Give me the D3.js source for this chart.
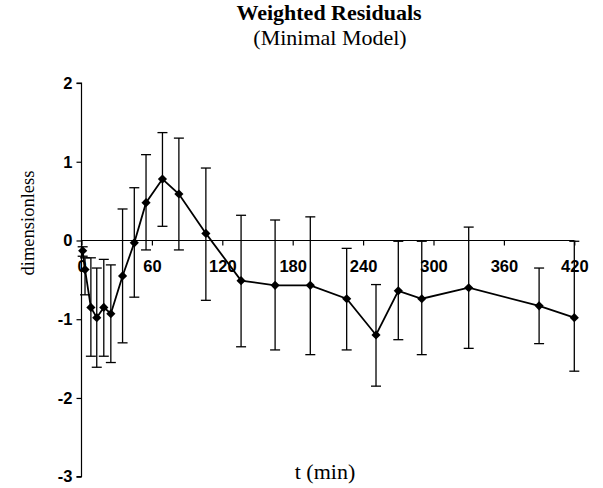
<!DOCTYPE html>
<html lang="en">
<head>
    <meta charset="UTF-8">
    <title>Weighted Residuals</title>
    <script src="https://d3js.org/d3.v7.min.js"></script>
    <style>
        body { margin: 0; background: #fff; }
        svg { display: block; }
        .tick text { font-family: "Liberation Sans", Arial, sans-serif; font-size: 16.5px; font-weight: bold; fill: #000; }
        .serif { font-family: "Liberation Serif", "Times New Roman", serif; fill: #000; }
    </style>
</head>
<body>
<svg width="603" height="488"></svg>
<script>
    // sample times (min) and weighted residuals with error bar ends
    var times = [1, 3, 8, 13, 19, 25, 35, 45, 55, 69, 83, 106, 136, 165, 195, 226, 251, 270, 290, 330, 390, 420];
    var residuals = [-0.13, -0.37, -0.85, -0.98, -0.85, -0.93, -0.45, -0.03, 0.48, 0.78, 0.59, 0.09, -0.51, -0.57, -0.57, -0.74, -1.20, -0.64, -0.74, -0.60, -0.83, -0.98];
    var upper = [-0.08, -0.22, -0.22, -0.35, -0.24, -0.31, 0.40, 0.67, 1.09, 1.37, 1.30, 0.92, 0.32, 0.26, 0.30, -0.10, -0.56, -0.01, -0.01, 0.17, -0.35, -0.01];
    var lower = [-0.20, -0.69, -1.47, -1.61, -1.47, -1.55, -1.30, -0.72, -0.12, 0.18, -0.12, -0.76, -1.35, -1.39, -1.45, -1.39, -1.85, -1.26, -1.45, -1.37, -1.31, -1.66];
    var xTicks = [0, 60, 120, 180, 240, 300, 360, 420];
    var yTicks = [-3, -2, -1, 0, 1, 2];

    var data = times.map(function (t, i) {
        return { t: t, r: residuals[i], hi: upper[i], lo: lower[i] };
    });

    var svg = d3.select("svg");
    var xScale = d3.scaleLinear().domain([0, 420]).range([81.5, 574.3]);
    var yScale = d3.scaleLinear().domain([-3, 2]).range([476.7, 83]);

    // y axis on the left (plain hyphen minus like the original)
    var yAxis = d3.axisLeft(yScale).tickValues(yTicks).tickSize(5).tickPadding(4)
        .tickFormat(function (d) { return String(d); });
    svg.append("g").attr("transform", "translate(" + xScale(0) + ",0)").call(yAxis)
        .call(function (g) {
            g.select(".domain").attr("d", "M-5," + yScale(2) + "H0V" + yScale(-3) + "H-5");
        });

    // x axis through zero
    var xAxis = d3.axisBottom(xScale).tickValues(xTicks).tickSize(5).tickPadding(15)
        .tickFormat(function (d) { return String(d); });
    svg.append("g").attr("transform", "translate(0," + yScale(0) + ")").call(xAxis)
        .call(function (g) {
            g.select(".domain").attr("d", "M" + xScale(0) + ",0H" + xScale(420));
        });

    svg.selectAll(".domain, .tick line").attr("stroke", "#000").attr("stroke-width", 1.2);

    // error bars
    var bars = svg.append("g").attr("stroke", "#000").attr("stroke-width", 1.3);
    bars.selectAll("line.v").data(data).enter().append("line")
        .attr("x1", function (d) { return xScale(d.t); })
        .attr("x2", function (d) { return xScale(d.t); })
        .attr("y1", function (d) { return yScale(d.hi); })
        .attr("y2", function (d) { return yScale(d.lo); });
    ["hi", "lo"].forEach(function (k) {
        bars.selectAll("line.c" + k).data(data).enter().append("line")
            .attr("x1", function (d) { return xScale(d.t) - 5; })
            .attr("x2", function (d) { return xScale(d.t) + 5; })
            .attr("y1", function (d) { return yScale(d[k]); })
            .attr("y2", function (d) { return yScale(d[k]); });
    });

    // residual line
    var resLine = d3.line()
        .x(function (d) { return xScale(d.t); })
        .y(function (d) { return yScale(d.r); });
    svg.append("path")
        .attr("d", resLine(data))
        .attr("fill", "none")
        .attr("stroke", "#000")
        .attr("stroke-width", 1.8);

    // diamond markers
    svg.selectAll("path.pt").data(data).enter().append("path")
        .attr("class", "pt")
        .attr("d", d3.symbol().type(d3.symbolSquare).size(42))
        .attr("transform", function (d) {
            return "translate(" + xScale(d.t) + "," + yScale(d.r) + ") rotate(45)";
        })
        .attr("fill", "#000");

    // titles
    svg.append("text").attr("class", "serif")
        .attr("x", 329).attr("y", 20).attr("text-anchor", "middle")
        .style("font-size", "22px").style("font-weight", "bold")
        .text("Weighted Residuals");
    svg.append("text").attr("class", "serif")
        .attr("x", 330).attr("y", 45).attr("text-anchor", "middle")
        .style("font-size", "22px")
        .text("(Minimal Model)");
    svg.append("text").attr("class", "serif")
        .attr("transform", "translate(34,223) rotate(-90)")
        .attr("text-anchor", "middle")
        .style("font-size", "18.5px")
        .text("dimensionless");
    svg.append("text").attr("class", "serif")
        .attr("x", 325).attr("y", 479).attr("text-anchor", "middle")
        .style("font-size", "22px")
        .text("t (min)");
</script>
</body>
</html>
